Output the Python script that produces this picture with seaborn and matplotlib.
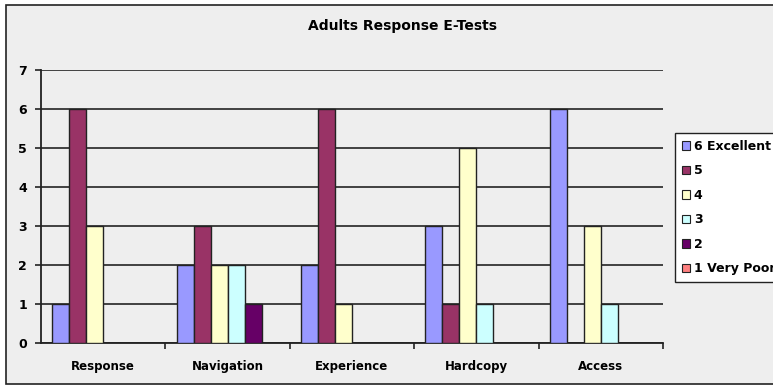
import matplotlib
matplotlib.use("Agg")
import matplotlib.pyplot as plt
from matplotlib.patches import Patch, Rectangle
import seaborn as sns
import pandas as pd

categories = ["Response", "Navigation", "Experience", "Hardcopy", "Access"]
series = ["6 Excellent", "5", "4", "3", "2", "1 Very Poor"]
excellent_6 = [1, 2, 2, 3, 6]
rating_5 = [6, 3, 6, 1, 0]
rating_4 = [3, 2, 1, 5, 3]
rating_3 = [0, 2, 0, 1, 1]
rating_2 = [0, 1, 0, 0, 0]
very_poor_1 = [0, 0, 0, 0, 0]
colors = ["#9999FF", "#993366", "#FFFFCC", "#CCFFFF", "#660066", "#FF8080"]

values = [excellent_6, rating_5, rating_4, rating_3, rating_2, very_poor_1]
rows = []
for s, vals in zip(series, values):
    for c, v in zip(categories, vals):
        rows.append({"Category": c, "Rating": s, "Count": v})
df = pd.DataFrame(rows)

sns.set_theme(style="white")
plt.rcParams["font.family"] = ["DejaVu Sans"]

W, H = 773, 389
fig = plt.figure(figsize=(W / 100, H / 100), dpi=100)
fig.patch.set_facecolor("white")

# chart area: grey panel with dark frame, behind everything
bg = fig.add_axes([0, 0, 1, 1], zorder=-5)
bg.set_xlim(0, W)
bg.set_ylim(H, 0)
bg.axis("off")
bg.add_patch(Rectangle((6, 5), W + 5, H - 10, facecolor="#EEEEEE",
                       edgecolor="#222222", linewidth=1.2))

ax = fig.add_axes([41 / W, (H - 343) / H, (663 - 41) / W, (343 - 70) / H])
ax.set_facecolor("#EEEEEE")

sns.barplot(data=df, x="Category", y="Count", hue="Rating", order=categories,
            hue_order=series, palette=colors, width=0.82, gap=0,
            edgecolor="#222222", linewidth=1.0, saturation=1, legend=False,
            ax=ax, zorder=3)

ax.set_ylim(0, 7)
ax.set_xlim(-0.5, 4.5)
ax.set_yticks(range(0, 8))
ax.yaxis.grid(True, color="#333333", linewidth=1.3)
ax.set_axisbelow(True)
for side in ["top", "right"]:
    ax.spines[side].set_visible(False)
ax.spines["left"].set_color("#222222")
ax.spines["left"].set_linewidth(1.3)
ax.spines["bottom"].set_color("#222222")
ax.spines["bottom"].set_linewidth(1.3)
ax.set_xlabel("")
ax.set_ylabel("")

ax.tick_params(axis="y", left=True, length=4, width=1.2, color="#222222",
               pad=6, labelsize=9)
ax.set_xticks(range(len(categories)))
ax.set_xticklabels(categories)
ax.tick_params(axis="x", bottom=False, pad=6, labelsize=8.5)
ax.set_xticks([0.5, 1.5, 2.5, 3.5, 4.5], minor=True)
ax.tick_params(axis="x", which="minor", bottom=True, length=4, width=1.2,
               color="#222222")
for lab in ax.get_xticklabels() + ax.get_yticklabels():
    lab.set_fontweight("bold")
    lab.set_color("black")

fig.text(402 / W, 1 - 26 / H, "Adults Response E-Tests", ha="center",
         va="center", fontsize=10, fontweight="bold", color="black")

handles = [Patch(facecolor=c, edgecolor="#222222", linewidth=0.8) for c in colors]
leg = fig.legend(handles, series, loc="upper left",
                 bbox_to_anchor=(675 / W, 1 - 133 / H),
                 frameon=True, fancybox=False, framealpha=1,
                 edgecolor="#222222", facecolor="white",
                 handlelength=0.65, handleheight=0.65, handletextpad=0.3,
                 labelspacing=0.92, borderpad=0.55, borderaxespad=0,
                 prop={"weight": "bold", "size": 9})
leg.get_frame().set_linewidth(1.0)
for t in leg.get_texts():
    t.set_color("black")

fig.savefig("out.png", dpi=100)
